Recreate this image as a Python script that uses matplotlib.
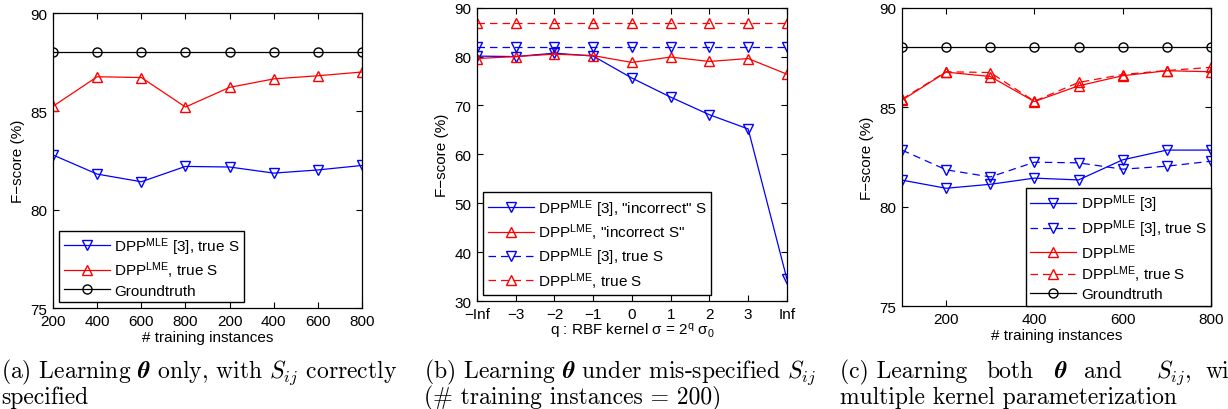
import numpy as np
import matplotlib.pyplot as plt

# panel (a): learning theta only, S correctly specified
a_labels = ['200', '400', '600', '800', '200', '400', '600', '800']
a_mle = [82.78, 81.81, 81.42, 82.20, 82.17, 81.86, 82.02, 82.25]
a_lme = [85.26, 86.76, 86.72, 85.22, 86.22, 86.65, 86.81, 87.00]
a_gt = [88, 88, 88, 88, 88, 88, 88, 88]

# panel (b): mis-specified S, q = -Inf..Inf
b_labels = ['\u2212Inf', '\u22123', '\u22122', '\u22121', '0', '1', '2', '3', 'Inf']
b_mle_inc = [80.1, 80.0, 80.7, 80.1, 75.6, 71.7, 68.1, 65.2, 34.5]
b_lme_inc = [79.6, 80.0, 80.5, 80.2, 78.8, 79.9, 79.0, 79.6, 76.4]
b_mle_true = [81.9] * 9
b_lme_true = [86.8] * 9

# panel (c): learning theta and S, multiple kernels
c_n = [100, 200, 300, 400, 500, 600, 700, 800]
c_mle = [81.33, 80.92, 81.12, 81.43, 81.34, 82.35, 82.84, 82.84]
c_mle_true = [82.84, 81.85, 81.49, 82.23, 82.20, 81.88, 82.03, 82.28]
c_lme = [85.35, 86.76, 86.54, 85.28, 86.07, 86.58, 86.83, 86.78]
c_lme_true = [85.40, 86.78, 86.74, 85.30, 86.24, 86.64, 86.84, 87.00]
c_gt = [88] * 8

plt.rcParams['font.family'] = ['Liberation Sans', 'DejaVu Sans']
plt.rcParams['mathtext.fontset'] = 'custom'
plt.rcParams['mathtext.rm'] = 'Liberation Sans'
plt.rcParams['mathtext.it'] = 'Liberation Sans:italic'
plt.rcParams['mathtext.bf'] = 'Liberation Sans:bold'
plt.rcParams['axes.linewidth'] = 0.9

MLE = 'DPP$^{\\rm MLE}$'
LME = 'DPP$^{\\rm LME}$'

fig = plt.figure(figsize=(12.28, 4.10), dpi=100)
ax_a = fig.add_axes([0.0432, 0.2463, 0.2516, 0.7195])
ax_b = fig.add_axes([0.3884, 0.2634, 0.2524, 0.7154])
ax_c = fig.add_axes([0.7345, 0.2512, 0.2516, 0.7276])

mk = dict(markersize=6.5, markerfacecolor='none', linewidth=0.9)
leg = dict(fontsize=11, handlelength=3, fancybox=False, edgecolor='k', framealpha=1,
           borderaxespad=0, labelspacing=0.2, handletextpad=0.3, borderpad=0.3)

x = np.arange(1, 9)
ax_a.plot(x, a_mle, 'b-', marker='v', markeredgecolor='b', label=MLE + ' [3], true S', **mk)
ax_a.plot(x, a_lme, 'r-', marker='^', markeredgecolor='r', label=LME + ', true S', **mk)
ax_a.plot(x, a_gt, 'k-', marker='o', markeredgecolor='k', label='Groundtruth', **mk)
ax_a.set_xlim(1, 8)
ax_a.set_ylim(75, 90)
ax_a.set_xticks(x)
ax_a.set_xticklabels(a_labels)
ax_a.set_yticks([75, 80, 85, 90])
ax_a.set_xlabel('# training instances', fontsize=11, labelpad=2)
ax_a.set_ylabel('F\u2212score (%)', fontsize=11, labelpad=4)
ax_a.legend(loc='lower left', bbox_to_anchor=(0.02, 0.02), **leg)

xb = np.arange(9)
ax_b.plot(xb, b_mle_inc, 'b-', marker='v', markeredgecolor='b', label=MLE + ' [3], "incorrect" S', **mk)
ax_b.plot(xb, b_lme_inc, 'r-', marker='^', markeredgecolor='r', label=LME + ', "incorrect S"', **mk)
ax_b.plot(xb, b_mle_true, 'b--', marker='v', markeredgecolor='b', label=MLE + ' [3], true S', dashes=(6, 4), **mk)
ax_b.plot(xb, b_lme_true, 'r--', marker='^', markeredgecolor='r', label=LME + ', true S', dashes=(6, 4), **mk)
ax_b.set_xlim(0, 8)
ax_b.set_ylim(30, 90)
ax_b.set_xticks(xb)
ax_b.set_xticklabels(b_labels)
ax_b.set_yticks(np.arange(30, 91, 10))
ax_b.set_xlabel('q : RBF kernel \u03c3 = 2$^{\\rm q}$ \u03c3$_{\\rm 0}$', fontsize=11, labelpad=0)
ax_b.set_ylabel('F\u2212score (%)', fontsize=11, labelpad=4)
ax_b.legend(loc='lower left', bbox_to_anchor=(0.02, 0.02), **leg)

ax_c.plot(c_n, c_mle, 'b-', marker='v', markeredgecolor='b', label=MLE + ' [3]', **mk)
ax_c.plot(c_n, c_mle_true, 'b--', marker='v', markeredgecolor='b', label=MLE + ' [3], true S', dashes=(6, 4), **mk)
ax_c.plot(c_n, c_lme, 'r-', marker='^', markeredgecolor='r', label=LME, **mk)
ax_c.plot(c_n, c_lme_true, 'r--', marker='^', markeredgecolor='r', label=LME + ', true S', dashes=(6, 4), **mk)
ax_c.plot(c_n, c_gt, 'k-', marker='o', markeredgecolor='k', label='Groundtruth', **mk)
ax_c.set_xlim(100, 800)
ax_c.set_ylim(75, 90)
ax_c.set_xticks([200, 400, 600, 800])
ax_c.set_yticks([75, 80, 85, 90])
ax_c.set_xlabel('# training instances', fontsize=11, labelpad=2)
ax_c.set_ylabel('F\u2212score (%)', fontsize=11, labelpad=4)
ax_c.legend(loc='lower right', **leg)

for ax in (ax_a, ax_b, ax_c):
    ax.tick_params(direction='in', top=True, right=True, length=4, width=0.8,
                   labelsize=11)
    ax.tick_params(axis='x', pad=4)
    ax.tick_params(axis='y', pad=4)

# captions
cap = dict(fontsize=17, family=['cmr10', 'DejaVu Serif'], math_fontfamily='cm', va='baseline')
y1 = 1 - 378 / 410
y2 = 1 - 404 / 410
fig.text(0.001, y1, '(a) Learning $\\boldsymbol{\\theta}$ only, with $S_{ij}$ correctly', **cap)
fig.text(0.001, y2, 'specified', **cap)
fig.text(424 / 1228, y1, '(b) Learning $\\boldsymbol{\\theta}$ under mis-specified $S_{ij}$', **cap)
fig.text(424 / 1228, y2, '(# training instances = 200)', **cap)
c_words = ['(c) Learning', 'both', '$\\boldsymbol{\\theta}$', 'and', '$S_{ij}$,', 'with']
c_pos = [840, 986, 1054, 1084, 1156, 1206]
for w, px in zip(c_words, c_pos):
    fig.text(px / 1228, y1, w, **cap)
fig.text(840 / 1228, y2, 'multiple kernel parameterization', **cap)

plt.savefig('out.png', dpi=100)
plt.close()
